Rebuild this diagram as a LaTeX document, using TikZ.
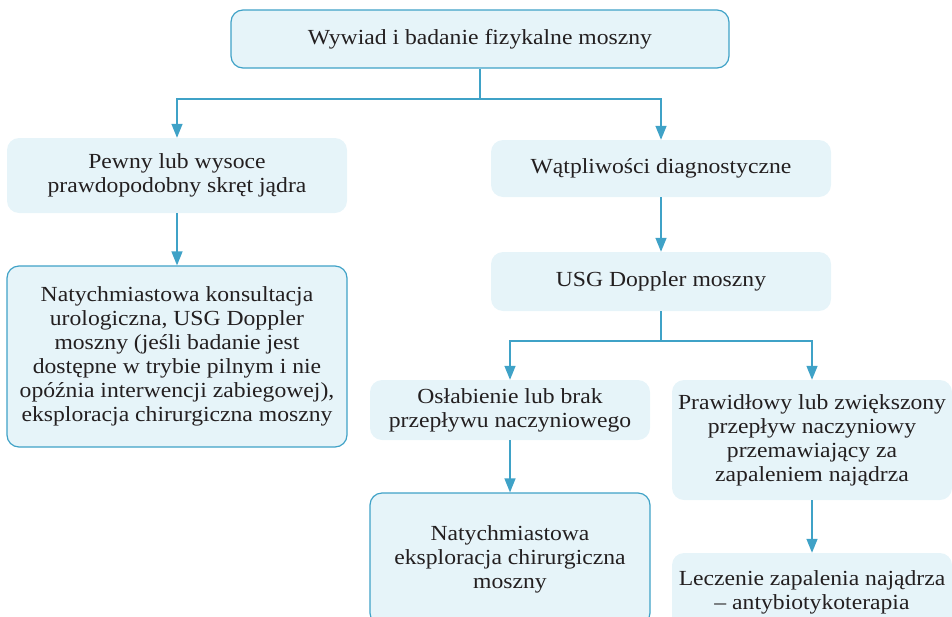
\documentclass[tikz,border=0pt]{standalone}
\usepackage{fontspec}
\setmainfont{Liberation Serif}[FakeStretch=1.1]
\usetikzlibrary{arrows.meta}
\definecolor{frame}{HTML}{3FA2C7}
\definecolor{pale}{HTML}{E6F4F9}
\definecolor{ink}{HTML}{231F20}
\begin{document}
\begin{tikzpicture}[x=1pt,y=-1pt,
  box/.style={rectangle, rounded corners=12pt, fill=pale, text=ink, align=center,
    inner sep=0pt, font=\fontsize{21.5}{24}\selectfont},
  framed/.style={box, draw=frame, line width=1.2pt},
  conn/.style={draw=frame, line width=1.4pt, -{Triangle[width=11pt,length=14pt]}}]
\useasboundingbox (0,0) rectangle (952,616);
\node[framed, minimum width=498pt, minimum height=58pt] (top) at (480,39) {Wywiad i badanie fizykalne moszny};
\node[box, minimum width=340pt, minimum height=75pt] (pewny) at (177,175.5) {Pewny lub wysoce\\prawdopodobny skręt jądra};
\node[framed, minimum width=340pt, minimum height=181pt] (konsult) at (177,356.5) {Natychmiastowa konsultacja\\urologiczna, USG Doppler\\moszny (jeśli badanie jest\\dostępne w trybie pilnym i nie\\opóźnia interwencji zabiegowej),\\eksploracja chirurgiczna moszny};
\node[box, minimum width=340pt, minimum height=57pt] (watp) at (661,168.5) {Wątpliwości diagnostyczne};
\node[box, minimum width=340pt, minimum height=59pt] (usg) at (661,281.5) {USG Doppler moszny};
\node[box, minimum width=280pt, minimum height=60pt] (oslab) at (510,410) {Osłabienie lub brak\\przepływu naczyniowego};
\node[framed, minimum width=280pt, minimum height=132pt] (eksp) at (510,559) {Natychmiastowa\\eksploracja chirurgiczna\\moszny};
\node[box, minimum width=280pt, minimum height=120pt] (prawid) at (812,440) {Prawidłowy lub zwiększony\\przepływ naczyniowy\\przemawiający za\\zapaleniem najądrza};
\node[box, minimum width=280pt, minimum height=78pt] (lecz) at (812,592) {Leczenie zapalenia najądrza\\– antybiotykoterapia};
\coordinate (j1) at (480,99);
\coordinate (j2) at (661,341);
\draw[conn] (top.south) -- (j1) -| (pewny.north);
\draw[conn] (j1) -| (watp.north);
\draw[conn] (pewny.south) -- (konsult.north);
\draw[conn] (watp.south) -- (usg.north);
\draw[conn] (usg.south) -- (j2) -| (oslab.north);
\draw[conn] (j2) -| (prawid.north);
\draw[conn] (oslab.south) -- (eksp.north);
\draw[conn] (prawid.south) -- (lecz.north);
\end{tikzpicture}
\end{document}
